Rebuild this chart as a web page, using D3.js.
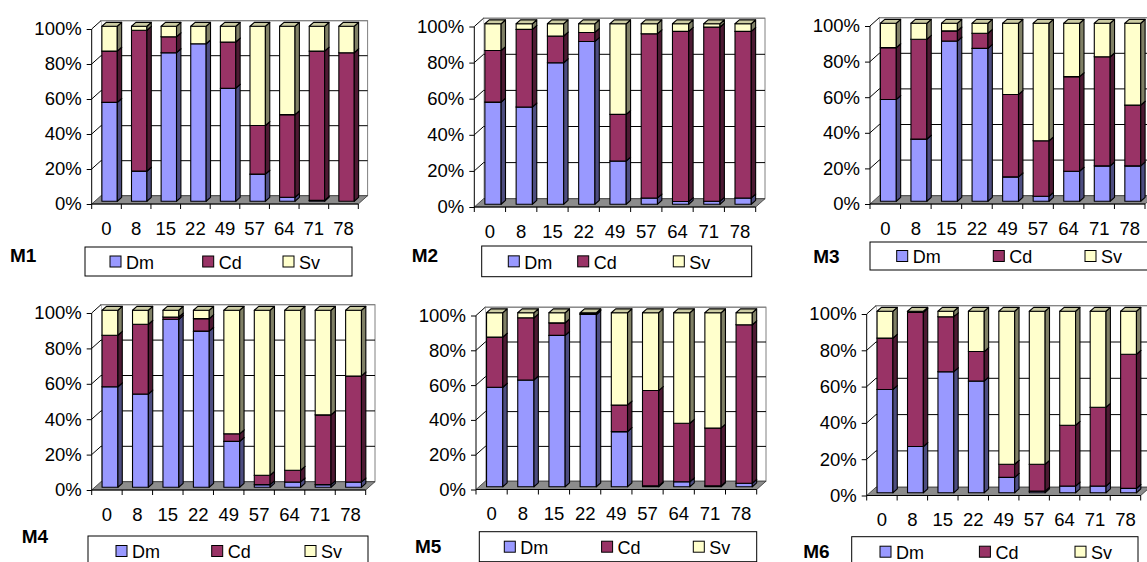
<!DOCTYPE html>
<html>
<head>
<meta charset="utf-8">
<script src="https://cdn.jsdelivr.net/npm/d3@7"></script>
<style>
  html, body { margin: 0; padding: 0; background: #fff; }
  svg { display: block; font-family: Arial, "Liberation Sans", sans-serif; }
</style>
</head>
<body>
<svg id="chart" width="1147" height="562"></svg>
<script>
// Sampling days shown on the category axis
const categories = ["0", "8", "15", "22", "49", "57", "64", "71", "78"];
const seriesNames = ["Dm", "Cd", "Sv"];
const yTicks = [0, 0.2, 0.4, 0.6, 0.8, 1];

// Relative composition (%) per sampling day, one set per mesocosm
const m1Dm = [56.5, 17.2, 84.9, 90.0, 64.6, 15.5, 2.3, 0.5, 0.0];
const m1Cd = [29.3, 80.5, 9.1, 0.0, 26.4, 27.8, 47.2, 85.3, 84.9];
const m1Sv = [14.2, 2.3, 6.0, 10.0, 9.0, 56.7, 50.5, 14.2, 15.1];

const m2Dm = [56.6, 53.9, 78.4, 90.2, 24.0, 3.5, 1.5, 1.7, 3.5];
const m2Cd = [28.6, 43.0, 14.8, 5.0, 25.8, 91.0, 94.3, 96.5, 92.3];
const m2Sv = [14.8, 3.1, 6.8, 4.8, 50.2, 5.5, 4.2, 1.8, 4.2];

const m3Dm = [57.2, 34.9, 90.0, 85.9, 13.7, 2.8, 16.9, 19.9, 19.9];
const m3Cd = [29.1, 56.1, 5.7, 8.5, 46.3, 31.2, 53.1, 61.3, 34.1];
const m3Sv = [13.7, 9.0, 4.3, 5.6, 40.0, 66.0, 30.0, 18.8, 46.0];

const m4Dm = [56.8, 52.7, 94.9, 88.2, 25.9, 1.5, 3.0, 1.5, 3.0];
const m4Cd = [29.1, 39.4, 1.3, 7.1, 4.3, 5.3, 6.6, 39.4, 59.9];
const m4Sv = [14.1, 7.9, 3.8, 4.7, 69.8, 93.2, 90.4, 59.1, 37.1];

const m5Dm = [57.2, 61.4, 87.0, 99.0, 31.7, 0.5, 2.9, 0.5, 2.0];
const m5Cd = [28.8, 35.7, 7.2, 0.5, 15.3, 54.8, 33.6, 33.3, 91.1];
const m5Sv = [14.0, 2.9, 5.8, 0.5, 53.0, 44.7, 63.5, 66.2, 6.9];

const m6Dm = [56.9, 25.5, 66.7, 61.6, 8.5, 0.9, 3.7, 3.7, 2.4];
const m6Cd = [28.3, 73.9, 30.3, 16.2, 7.2, 14.8, 33.5, 43.4, 73.9];
const m6Sv = [14.8, 0.6, 3.0, 22.2, 84.3, 84.3, 62.8, 52.9, 23.7];

const panelNames = ["M1", "M2", "M3", "M4", "M5", "M6"];
const panelSeries = [
  [m1Dm, m1Cd, m1Sv], [m2Dm, m2Cd, m2Sv], [m3Dm, m3Cd, m3Sv],
  [m4Dm, m4Cd, m4Sv], [m5Dm, m5Cd, m5Sv], [m6Dm, m6Cd, m6Sv]
];

// Placement of each small chart: front plot frame, title and legend box
const layout = [
  { x0: 91.7, x1: 358.3, yTop: 29, yBot: 204, title: [10, 255],
    legend: { x: 85, y: 247, w: 267, h: 29, sw: [25, 117.7, 198] } },
  { x0: 474.3, x1: 755.7, yTop: 26.5, yBot: 207, title: [411.7, 255],
    legend: { x: 481.7, y: 246, w: 270, h: 30.7, sw: [26.6, 96, 191.6] } },
  { x0: 870, x1: 1145, yTop: 26, yBot: 204, title: [813.3, 256.7],
    legend: { x: 870, y: 242, w: 282, h: 28, sw: [26.7, 123.3, 215] } },
  { x0: 91.7, x1: 365.7, yTop: 313, yBot: 490, title: [21.7, 536.7],
    legend: { x: 88, y: 536, w: 280, h: 30, sw: [28, 123.7, 217] } },
  { x0: 476, x1: 756.7, yTop: 315.5, yBot: 489.5, title: [415, 546.7],
    legend: { x: 479.3, y: 531.7, w: 277.4, h: 30, sw: [25, 122.3, 214] } },
  { x0: 866.7, x1: 1140.7, yTop: 314, yBot: 495.5, title: [803.3, 551.7],
    legend: { x: 851.7, y: 536.7, w: 286.3, h: 30, sw: [28.3, 127.7, 223.3] } }
];

const colors = { Dm: "#9999FF", Cd: "#993366", Sv: "#FFFFCC" };
const depth = [9.3, -8.3];      // full wall depth (screen offset)
const barFront = 0.33;          // bar front plane as fraction of depth
const barDepth = 0.47;          // bar thickness as fraction of depth
const barWidthFrac = 0.52;
const fontFamily = "Arial, 'Liberation Sans', sans-serif";
const labelSize = 18.5;

function shade(c, k) {
  const r = d3.rgb(c);
  return d3.rgb(r.r * k, r.g * k, r.b * k).formatHex();
}
const pts = a => a.map(p => p.join(",")).join(" ");

const svg = d3.select("#chart");

panelNames.forEach((name, pi) => {
  const L = layout[pi];
  const [dx, dy] = depth;
  const g = svg.append("g");

  const rows = categories.map((c, i) => {
    const r = { cat: c };
    seriesNames.forEach((s, si) => { r[s] = panelSeries[pi][si][i]; });
    return r;
  });
  const stack = d3.stack().keys(seriesNames).offset(d3.stackOffsetExpand)(rows);

  const x = d3.scaleBand().domain(categories).range([L.x0, L.x1]).padding(0);
  const y = d3.scaleLinear().domain([0, 1]).range([L.yBot, L.yTop]);

  // back wall
  g.append("rect")
    .attr("x", L.x0 + dx).attr("y", L.yTop + dy)
    .attr("width", L.x1 - L.x0).attr("height", L.yBot - L.yTop)
    .attr("fill", "#fff").attr("stroke", "#808080").attr("stroke-width", 1);
  // side wall
  g.append("polygon")
    .attr("points", pts([[L.x0, L.yTop], [L.x0 + dx, L.yTop + dy], [L.x0 + dx, L.yBot + dy], [L.x0, L.yBot]]))
    .attr("fill", "#fff").attr("stroke", "none");

  // gridlines on back and side walls
  yTicks.filter(t => t > 0).forEach(t => {
    const yy = y(t);
    g.append("line")
      .attr("x1", L.x0 + dx).attr("x2", L.x1 + dx)
      .attr("y1", yy + dy).attr("y2", yy + dy)
      .attr("stroke", t === 1 ? "#808080" : "#000").attr("stroke-width", 1);
    g.append("line")
      .attr("x1", L.x0).attr("x2", L.x0 + dx)
      .attr("y1", yy).attr("y2", yy + dy)
      .attr("stroke", "#000").attr("stroke-width", 1);
  });

  // floor
  g.append("polygon")
    .attr("points", pts([[L.x0, L.yBot], [L.x1, L.yBot], [L.x1 + dx, L.yBot + dy], [L.x0 + dx, L.yBot + dy]]))
    .attr("fill", "#8c8c8c").attr("stroke", "#333").attr("stroke-width", 0.8);

  // columns
  const bw = x.bandwidth() * barWidthFrac;
  const fx = dx * barFront, fy = dy * barFront;
  const bdx = dx * barDepth, bdy = dy * barDepth;
  categories.forEach((c, ci) => {
    const left = x(c) + (x.bandwidth() - bw) / 2 + fx;
    stack.forEach(layer => {
      const d = layer[ci];
      const y0 = y(d[0]) + fy, y1 = y(d[1]) + fy;
      if (y0 - y1 < 0.05) return;
      const col = colors[layer.key];
      const seg = g.append("g").attr("stroke", "#000").attr("stroke-width", 1.1).attr("stroke-linejoin", "round");
      seg.append("rect")
        .attr("x", left).attr("y", y1).attr("width", bw).attr("height", y0 - y1)
        .attr("fill", col);
      seg.append("polygon")
        .attr("points", pts([[left + bw, y1], [left + bw + bdx, y1 + bdy], [left + bw + bdx, y0 + bdy], [left + bw, y0]]))
        .attr("fill", shade(col, 0.5));
      seg.append("polygon")
        .attr("points", pts([[left, y1], [left + bdx, y1 + bdy], [left + bw + bdx, y1 + bdy], [left + bw, y1]]))
        .attr("fill", shade(col, 0.8));
    });
  });

  // value axis
  const yAxis = d3.axisLeft(y).tickValues(yTicks).tickFormat(d3.format(".0%")).tickSize(5).tickPadding(5);
  const ya = g.append("g").attr("transform", `translate(${L.x0},0)`).call(yAxis);
  ya.select(".domain").attr("stroke", "#000").attr("d", `M0,${L.yTop}V${L.yBot}`);
  ya.selectAll("line").attr("stroke", "#000");
  ya.selectAll("text").attr("font-size", labelSize).attr("fill", "#000").attr("font-family", fontFamily);

  // category axis
  const xAxis = d3.axisBottom(x).tickSize(0).tickPadding(17.5);
  const xa = g.append("g").attr("transform", `translate(0,${L.yBot})`).call(xAxis);
  xa.select(".domain").attr("stroke", "#000").attr("d", `M${L.x0},0H${L.x1}`);
  xa.selectAll("text").attr("font-size", labelSize).attr("fill", "#000").attr("font-family", fontFamily);
  const bounds = categories.map(c => x(c)).concat([x(categories[categories.length - 1]) + x.bandwidth()]);
  xa.selectAll(".sep").data(bounds).enter().append("line")
    .attr("class", "sep").attr("x1", d => d).attr("x2", d => d)
    .attr("y1", 0).attr("y2", 5).attr("stroke", "#000");

  // title
  g.append("text").attr("x", L.title[0]).attr("y", L.title[1]).attr("dy", "0.35em")
    .attr("font-size", 19).attr("font-weight", "bold").attr("font-family", fontFamily).text(name);

  // legend
  const lg = g.append("g").attr("transform", `translate(${L.legend.x},${L.legend.y})`);
  lg.append("rect").attr("width", L.legend.w).attr("height", L.legend.h)
    .attr("fill", "#fff").attr("stroke", "#000").attr("stroke-width", 1);
  seriesNames.forEach((s, si) => {
    const sx = L.legend.sw[si];
    lg.append("rect").attr("x", sx).attr("y", L.legend.h / 2 - 5.5).attr("width", 11).attr("height", 11)
      .attr("fill", colors[s]).attr("stroke", "#000").attr("stroke-width", 1);
    lg.append("text").attr("x", sx + 16).attr("y", L.legend.h / 2 + 1).attr("dy", "0.35em")
      .attr("font-size", 18).attr("font-family", fontFamily).text(s);
  });
});
</script>
</body>
</html>
